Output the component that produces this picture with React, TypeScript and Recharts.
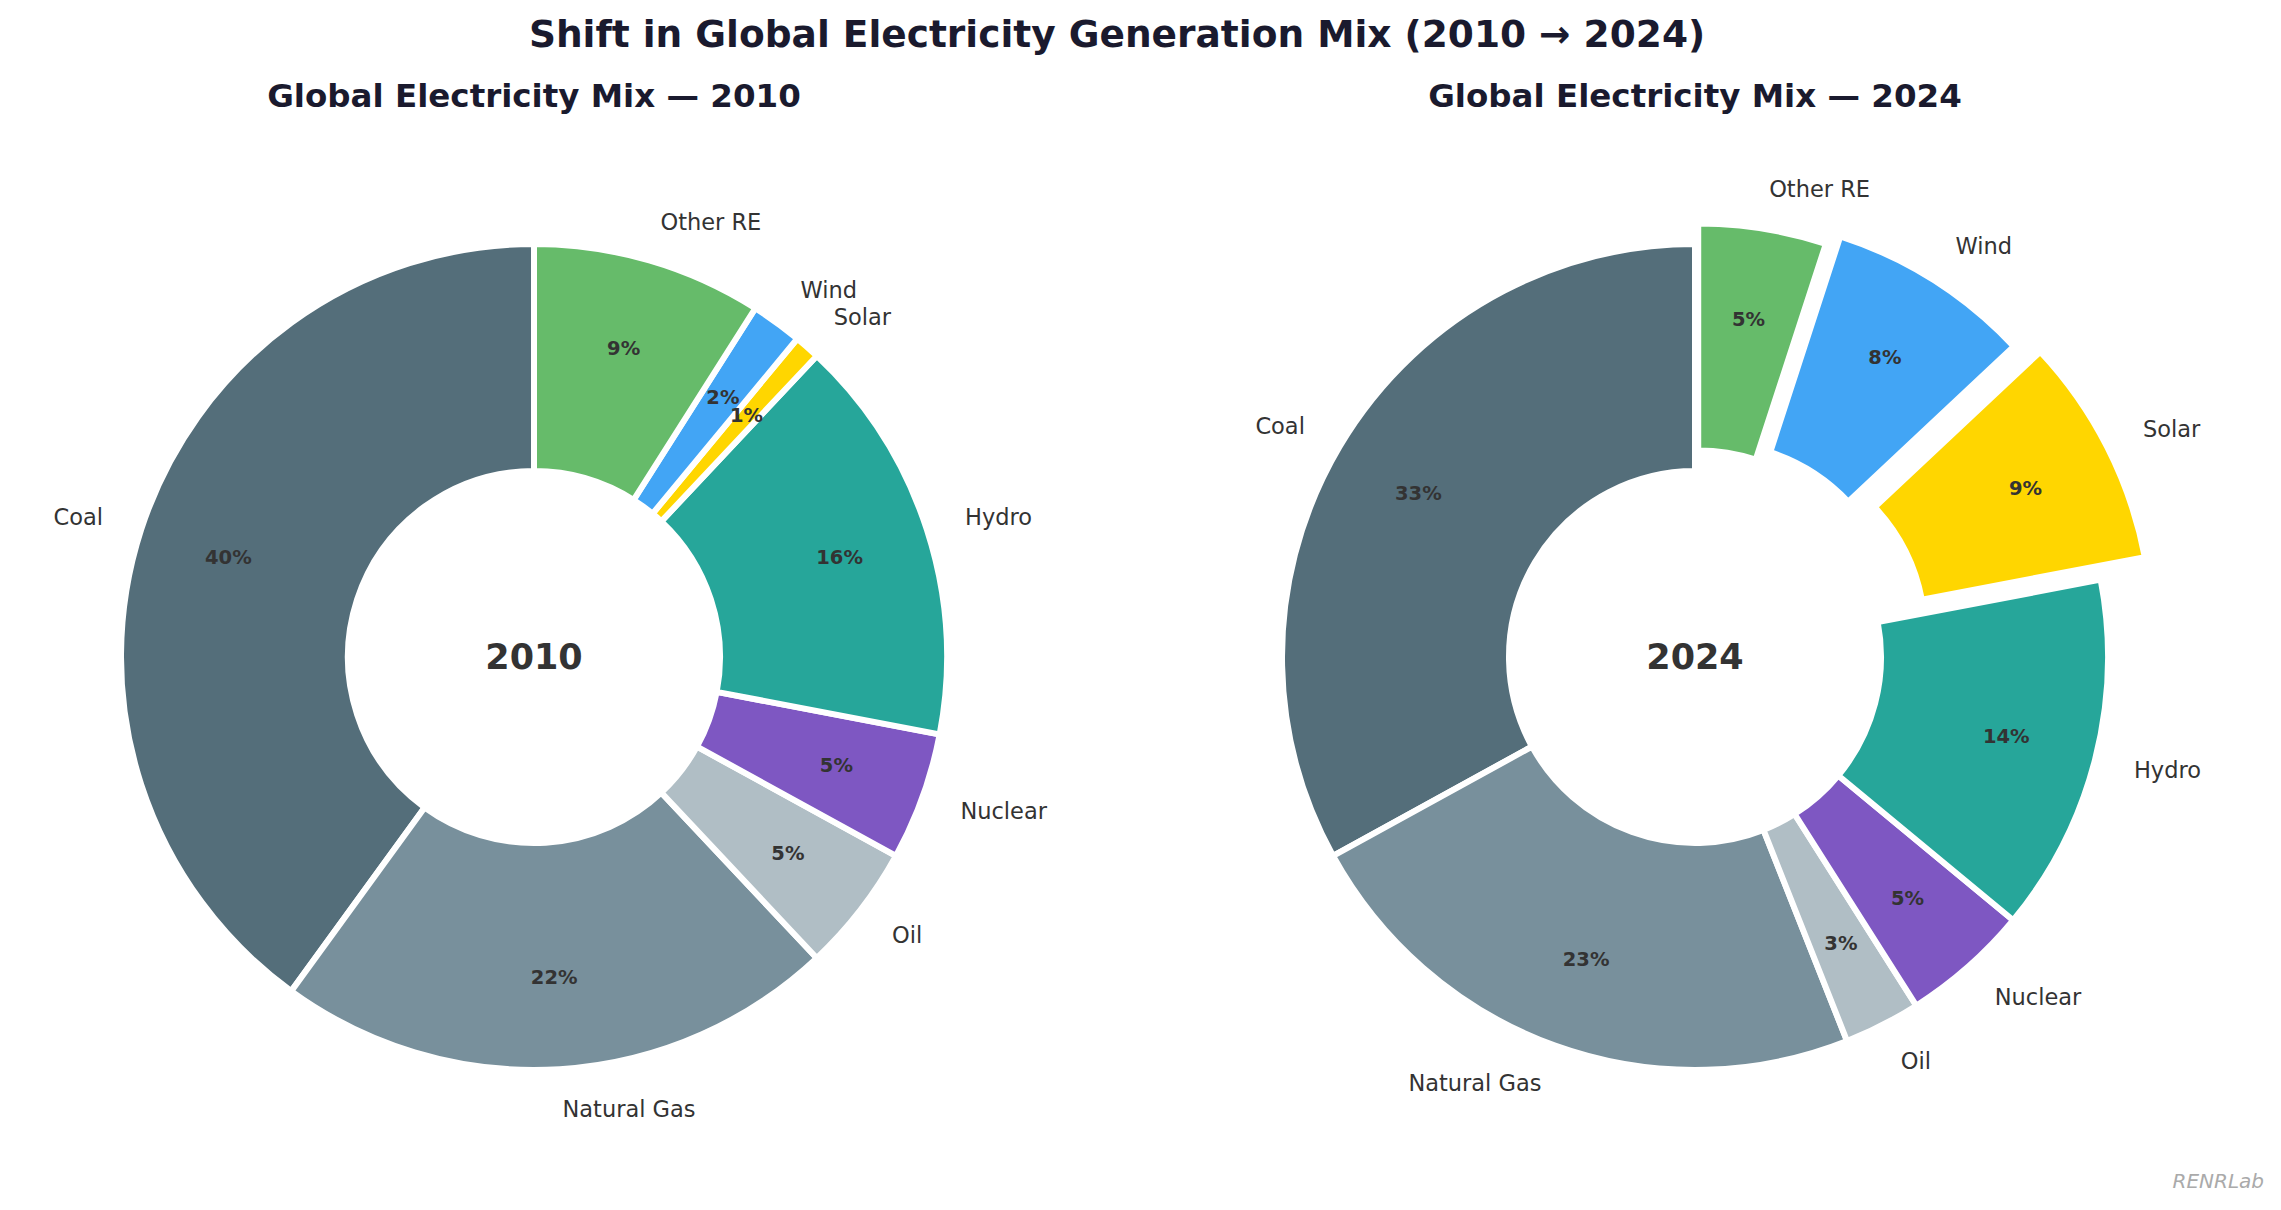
import { PieChart, Pie, Cell, Sector } from "recharts";

const CATEGORIES = ["Coal", "Natural Gas", "Oil", "Nuclear", "Hydro", "Solar", "Wind", "Other RE"];
const VALUES_2010 = [40, 22, 5, 5, 16, 1, 2, 9];
const VALUES_2024 = [33, 23, 3, 5, 14, 9, 8, 5];
const EXPLODE_2010 = [0, 0, 0, 0, 0, 0, 0, 0];
const EXPLODE_2024 = [0, 0, 0, 0, 0, 0.12, 0.08, 0.05];
const COLORS = ["#546E7A", "#78909C", "#B0BEC5", "#7E57C2", "#26A69A", "#FFD600", "#42A5F5", "#66BB6A"];

const WIDTH = 2281;
const HEIGHT = 1210;
const RADIUS = 413;
const LABEL_BASE = 412;
const INNER = 186;
const CY = 657;
const FONT = "'DejaVu Sans', sans-serif";
const RAD = Math.PI / 180;

const toRows = (values: number[]) => CATEGORIES.map((name, i) => ({ name, value: values[i] }));

// matplotlib-style explode: push the wedge out along its mid angle
const explodedShape = (explode: number[]) => (props: any) => {
  const d = (explode[props.index] || 0) * RADIUS;
  const dx = d * Math.cos(-props.midAngle * RAD);
  const dy = d * Math.sin(-props.midAngle * RAD);
  return <Sector {...props} cx={props.cx + dx} cy={props.cy + dy} />;
};

const sliceLabel = (explode: number[]) => (props: any) => {
  const { cx, cy, midAngle, index, value, name } = props;
  const cos = Math.cos(-midAngle * RAD);
  const sin = Math.sin(-midAngle * RAD);
  const off = (explode[index] || 0) * RADIUS;
  const nameR = off + LABEL_BASE * 1.1;
  const pctR = off + LABEL_BASE * 0.78;
  return (
    <g key={name}>
      <text
        x={cx + nameR * cos}
        y={cy + nameR * sin}
        textAnchor={cos < 0 ? "end" : "start"}
        dominantBaseline="central"
        fontFamily={FONT}
        fontSize={22.5}
        fill="#333333"
      >
        {name}
      </text>
      <text
        x={cx + pctR * cos}
        y={cy + pctR * sin}
        textAnchor="middle"
        dominantBaseline="central"
        fontFamily={FONT}
        fontSize={19.5}
        fontWeight="bold"
        fill="#333333"
      >
        {value}%
      </text>
    </g>
  );
};

function Donut({ values, explode, cx }: { values: number[]; explode: number[]; cx: number }) {
  return (
    <Pie
      data={toRows(values)}
      dataKey="value"
      nameKey="name"
      cx={cx}
      cy={CY}
      innerRadius={INNER}
      outerRadius={RADIUS}
      startAngle={90}
      endAngle={450}
      stroke="#ffffff"
      strokeWidth={6}
      shape={explodedShape(explode)}
      label={sliceLabel(explode)}
      labelLine={false}
      isAnimationActive={false}
    >
      {CATEGORIES.map((c, i) => (
        <Cell key={c} fill={COLORS[i]} />
      ))}
    </Pie>
  );
}

export default function App() {
  return (
    <div style={{ position: "absolute", left: 0, top: 0, width: WIDTH, height: HEIGHT, background: "#fff" }}>
      <PieChart width={WIDTH} height={HEIGHT} margin={{ top: 0, right: 0, bottom: 0, left: 0 }}>
        {Donut({ values: VALUES_2010, explode: EXPLODE_2010, cx: 534 })}
        {Donut({ values: VALUES_2024, explode: EXPLODE_2024, cx: 1695 })}
        <text x={1117} y={47} textAnchor="middle" fontFamily={FONT} fontSize={37.5} fontWeight="bold" fill="#1a1a2e">
          Shift in Global Electricity Generation Mix (2010 → 2024)
        </text>
        <text x={534} y={107} textAnchor="middle" fontFamily={FONT} fontSize={32.5} fontWeight="bold" fill="#1a1a2e">
          Global Electricity Mix — 2010
        </text>
        <text x={1695} y={107} textAnchor="middle" fontFamily={FONT} fontSize={32.5} fontWeight="bold" fill="#1a1a2e">
          Global Electricity Mix — 2024
        </text>
        <text x={534} y={657} textAnchor="middle" dominantBaseline="central" fontFamily={FONT} fontSize={35} fontWeight="bold" fill="#333333">
          2010
        </text>
        <text x={1695} y={657} textAnchor="middle" dominantBaseline="central" fontFamily={FONT} fontSize={35} fontWeight="bold" fill="#333333">
          2024
        </text>
        <text x={2264} y={1188} textAnchor="end" fontFamily={FONT} fontSize={20} fontStyle="italic" fill="#aaaaaa">
          RENRLab
        </text>
      </PieChart>
    </div>
  );
}
